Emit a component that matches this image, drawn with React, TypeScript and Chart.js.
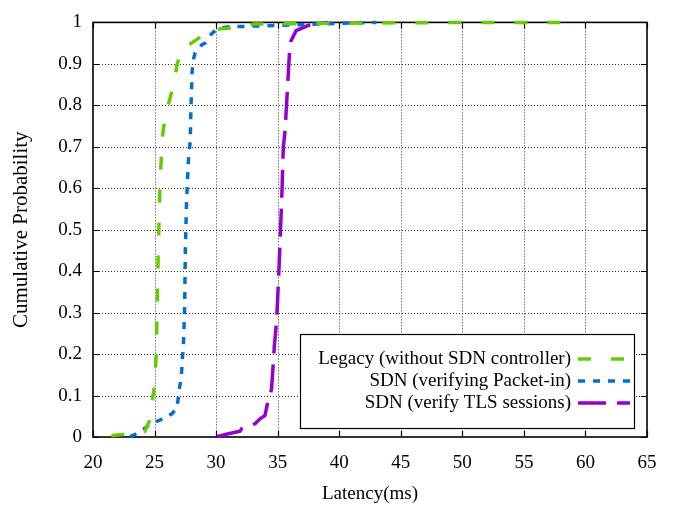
import React, { useEffect, useRef } from "react";
import { Chart, registerables } from "chart.js";

Chart.register(...registerables);

// ---- data ----
const xTickValues = [20, 25, 30, 35, 40, 45, 50, 55, 60, 65];
const yTickValues = [0, 0.1, 0.2, 0.3, 0.4, 0.5, 0.6, 0.7, 0.8, 0.9, 1];

const seriesNames = [
  "Legacy (without SDN controller)",
  "SDN (verifying Packet-in)",
  "SDN (verify TLS sessions)",
];

const legacyX = [21.5, 22.4, 24.2, 24.6, 24.85, 25.03, 25.1, 25.15, 25.2, 25.3, 25.44, 25.5, 25.6, 25.66, 25.93, 26.2, 26.66, 26.8, 27.2, 28.0, 29.5, 30.45, 32.2, 33.0, 40, 50, 58];
const legacyY = [0.003, 0.006, 0.013, 0.04, 0.095, 0.13, 0.18, 0.21, 0.3, 0.45, 0.61, 0.644, 0.7, 0.73, 0.786, 0.81, 0.864, 0.895, 0.936, 0.95, 0.981, 0.985, 0.989, 0.996, 0.998, 1.0, 1.0];

const packetX = [23.0, 23.4, 24.2, 24.6, 25.2, 25.7, 26.4, 26.8, 26.93, 27.0, 27.12, 27.2, 27.26, 27.34, 27.4, 27.45, 27.5, 27.6, 27.75, 27.9, 27.95, 28.0, 28.05, 28.15, 28.3, 28.83, 29.1, 29.64, 30.05, 30.86, 35, 40, 43];
const packetY = [0.001, 0.006, 0.021, 0.03, 0.038, 0.044, 0.056, 0.068, 0.095, 0.115, 0.134, 0.158, 0.19, 0.22, 0.27, 0.32, 0.45, 0.57, 0.667, 0.715, 0.79, 0.832, 0.88, 0.91, 0.927, 0.946, 0.95, 0.973, 0.983, 0.989, 0.993, 0.998, 1.0];

const tlsX = [30.05, 31.0, 31.94, 32.08, 33.16, 33.57, 33.97, 34.16, 34.5, 34.65, 34.73, 34.92, 35.1, 35.33, 35.46, 35.6, 35.87, 35.95, 36.06, 36.5, 37.5, 39.1];
const tlsY = [0.001, 0.008, 0.014, 0.02, 0.032, 0.044, 0.052, 0.079, 0.115, 0.18, 0.22, 0.283, 0.4, 0.573, 0.7, 0.738, 0.88, 0.922, 0.954, 0.98, 0.993, 1.0];

const FONT = '"Liberation Serif", "Times New Roman", serif';
const COLORS = ["#66cc00", "#0070d0", "#9400d3"];
const DASHES = [[13, 20], [7, 8], [28, 11]];

export default function App() {
  const ref = useRef<HTMLCanvasElement>(null);

  useEffect(() => {
    if (!ref.current) return;
    const pts = (xs: number[], ys: number[]) => xs.map((x, i) => ({ x, y: ys[i] }));

    const framePlugin = {
      id: "gnuFrame",
      beforeDatasetsDraw(chart: any) {
        const { ctx, chartArea: a, scales } = chart;
        const sx = scales.x, sy = scales.y;
        ctx.save();
        // dotted grid
        ctx.strokeStyle = "rgba(0,0,0,0.8)";
        ctx.lineWidth = 1;
        ctx.setLineDash([1, 2]);
        xTickValues.slice(1, -1).forEach((v) => {
          const p = Math.round(sx.getPixelForValue(v)) + 0.5;
          ctx.beginPath();
          ctx.moveTo(p, a.top);
          ctx.lineTo(p, a.bottom);
          ctx.stroke();
        });
        yTickValues.slice(1, -1).forEach((v) => {
          const p = Math.round(sy.getPixelForValue(v)) + 0.5;
          ctx.beginPath();
          ctx.moveTo(a.left, p);
          ctx.lineTo(a.right, p);
          ctx.stroke();
        });
        ctx.setLineDash([]);
        // ticks (inward, mirrored)
        ctx.strokeStyle = "#000";
        ctx.lineWidth = 1.2;
        const tl = 6;
        xTickValues.forEach((v) => {
          const p = Math.round(sx.getPixelForValue(v)) + 0.5;
          ctx.beginPath();
          ctx.moveTo(p, a.bottom);
          ctx.lineTo(p, a.bottom - tl);
          ctx.moveTo(p, a.top);
          ctx.lineTo(p, a.top + tl);
          ctx.stroke();
        });
        yTickValues.forEach((v) => {
          const p = Math.round(sy.getPixelForValue(v)) + 0.5;
          ctx.beginPath();
          ctx.moveTo(a.left, p);
          ctx.lineTo(a.left + tl, p);
          ctx.moveTo(a.right, p);
          ctx.lineTo(a.right - tl, p);
          ctx.stroke();
        });
        // frame
        ctx.lineWidth = 1.6;
        ctx.strokeRect(a.left, a.top, a.right - a.left, a.bottom - a.top);
        ctx.restore();
      },
      afterDatasetsDraw(chart: any) {
        const { ctx, chartArea: a } = chart;
        ctx.save();
        // legend box
        const bx = 300, by = 334, bw = 334, bh = 94;
        ctx.fillStyle = "#fff";
        ctx.fillRect(bx, by, bw, bh);
        ctx.strokeStyle = "#000";
        ctx.lineWidth = 1.2;
        ctx.strokeRect(bx + 0.5, by + 0.5, bw, bh);
        ctx.font = `19px ${FONT}`;
        ctx.fillStyle = "#000";
        ctx.textAlign = "right";
        ctx.textBaseline = "middle";
        seriesNames.forEach((name, i) => {
          const yy = 359 + i * 22;
          ctx.fillText(name, 571, yy);
          ctx.save();
          ctx.strokeStyle = COLORS[i];
          ctx.lineWidth = 3.5;
          ctx.setLineDash(DASHES[i]);
          ctx.beginPath();
          ctx.moveTo(578, yy);
          ctx.lineTo(630, yy);
          ctx.stroke();
          ctx.restore();
        });
        // axis titles
        ctx.textAlign = "center";
        ctx.textBaseline = "middle";
        ctx.fillText("Latency(ms)", (a.left + a.right) / 2, 494);
        ctx.save();
        ctx.font = `21px ${FONT}`;
        ctx.translate(21, (a.top + a.bottom) / 2);
        ctx.rotate(-Math.PI / 2);
        ctx.fillText("Cumulative Probability", 0, 0);
        ctx.restore();
        ctx.restore();
      },
    };

    const mk = (i: number, data: any[]) => ({
      label: seriesNames[i],
      data,
      borderColor: COLORS[i],
      backgroundColor: COLORS[i],
      borderWidth: 3.5,
      borderDash: DASHES[i],
      borderCapStyle: "butt",
      pointRadius: 0,
      tension: 0,
      fill: false,
      clip: false,
    });

    const chart = new Chart(ref.current, {
      type: "line",
      data: {
        datasets: [
          mk(0, pts(legacyX, legacyY)),
          mk(1, pts(packetX, packetY)),
          mk(2, pts(tlsX, tlsY)),
        ],
      },
      options: {
        animation: false,
        responsive: false,
        devicePixelRatio: 1,
        layout: { padding: { top: 12, right: 32, left: 0, bottom: 0 } },
        plugins: { legend: { display: false }, tooltip: { enabled: false } },
        scales: {
          x: {
            type: "linear",
            min: 20,
            max: 65,
            afterBuildTicks: (s: any) => {
              s.ticks = xTickValues.map((v) => ({ value: v }));
            },
            afterFit: (s: any) => {
              s.height = 73;
            },
            grid: { display: false, drawTicks: false },
            border: { display: false },
            ticks: {
              color: "#000",
              font: { family: FONT, size: 19 },
              padding: 15,
              maxRotation: 0,
              autoSkip: false,
              callback: (v: any) => String(v),
            },
          },
          y: {
            type: "linear",
            min: 0,
            max: 1,
            afterBuildTicks: (s: any) => {
              s.ticks = yTickValues.map((v) => ({ value: v }));
            },
            afterFit: (s: any) => {
              s.width = 93;
            },
            grid: { display: false, drawTicks: false },
            border: { display: false },
            ticks: {
              color: "#000",
              font: { family: FONT, size: 19 },
              padding: 11,
              autoSkip: false,
              callback: (v: any) => String(Number(Number(v).toFixed(1))),
            },
          },
        },
      },
      plugins: [framePlugin],
    } as any);

    return () => chart.destroy();
  }, []);

  return (
    <div style={{ position: "fixed", left: 0, top: 0, width: 679, height: 510, background: "#fff" }}>
      <canvas ref={ref} width={679} height={510} style={{ width: 679, height: 510 }} />
    </div>
  );
}
